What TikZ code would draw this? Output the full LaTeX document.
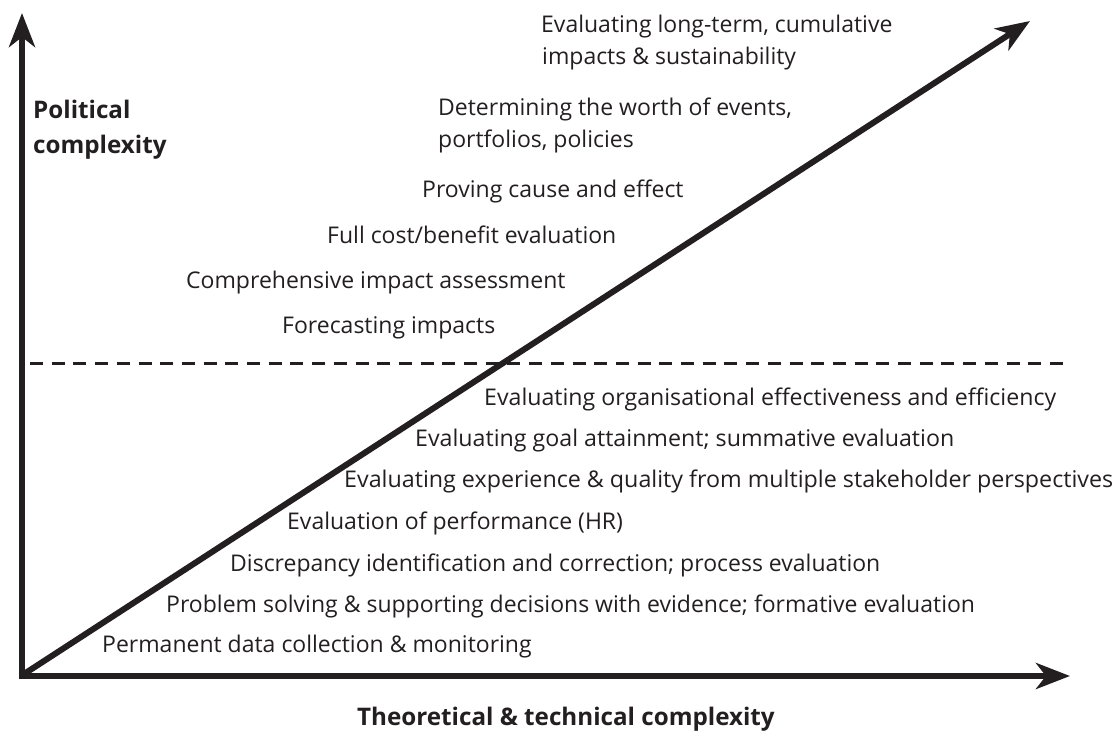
\documentclass[tikz,border=0pt]{standalone}
\usepackage{fontspec}
\setmainfont{Open Sans}
\usepackage{graphicx}
\usetikzlibrary{arrows.meta}
\definecolor{ink}{HTML}{231F20}
\tikzset{
  axisline/.style={draw=ink, line width=6.5pt, -{Stealth[length=34pt,width=26pt,inset=10pt]}},
  trendline/.style={draw=ink, line width=6pt, -{Stealth[length=34pt,width=26pt,inset=10pt]}},
  lbl/.style={anchor=base west, inner sep=0pt, text=ink, font=\fontsize{23}{27}\selectfont},
  boldlbl/.style={anchor=base west, inner sep=0pt, text=ink, font=\fontsize{24.2}{29}\selectfont\bfseries},
  sepline/.style={draw=ink, line width=3pt, dash pattern=on 13pt off 8.7pt}
}
\begin{document}
\begin{tikzpicture}[x=1pt,y=-1pt]
\useasboundingbox (0,0) rectangle (1117,731);
% axes
\coordinate (vbot) at (22,679.25);
\coordinate (vtop) at (22,13);
\coordinate (hleft) at (18.75,676);
\coordinate (hright) at (1070,676);
\coordinate (dstart) at (24,674);
\coordinate (dend) at (1030,21);
\coordinate (sl) at (30,363);
\coordinate (sr) at (1068,363);
\draw[axisline] (vbot) -- (vtop);
\draw[axisline] (hleft) -- (hright);
\draw[trendline] (dstart) -- (dend);
\draw[sepline] (sl) -- (sr);
% axis titles
\node[boldlbl] (pol1) at (33,118) {Political};
\node[boldlbl] (pol2) at (33,153) {complexity};
\node[boldlbl] (theo) at (357,725) {Theoretical \& technical complexity};
% upper group
\node[lbl] (u1a) at (541,32) {Evaluating long-term, cumulative};
\node[lbl] (u1b) at (542,64) {impacts \& sustainability};
\node[lbl] (u2a) at (438,115) {Determining the worth of events,};
\node[lbl] (u2b) at (438,147) {portfolios, policies};
\node[lbl] (u3) at (422,197) {Proving cause and effect};
\node[lbl] (u4) at (327,243) {Full cost/benefit evaluation};
\node[lbl] (u5) at (186,288) {Comprehensive impact assessment};
\node[lbl] (u6) at (282,333) {Forecasting impacts};
% lower group
\node[lbl] (l1) at (484,405) {\resizebox{572pt}{\height}{Evaluating organisational effectiveness and efficiency}};
\node[lbl] (l2) at (415,446) {\resizebox{539pt}{\height}{Evaluating goal attainment; summative evaluation}};
\node[lbl] (l3) at (344,487) {\resizebox{769pt}{\height}{Evaluating experience \& quality from multiple stakeholder perspectives}};
\node[lbl] (l4) at (287,529) {Evaluation of performance (HR)};
\node[lbl] (l5) at (230,571) {Discrepancy identification and correction; process evaluation};
\node[lbl] (l6) at (166,612) {Problem solving \& supporting decisions with evidence; formative evaluation};
\node[lbl] (l7) at (102,652) {Permanent data collection \& monitoring};
\end{tikzpicture}
\end{document}
